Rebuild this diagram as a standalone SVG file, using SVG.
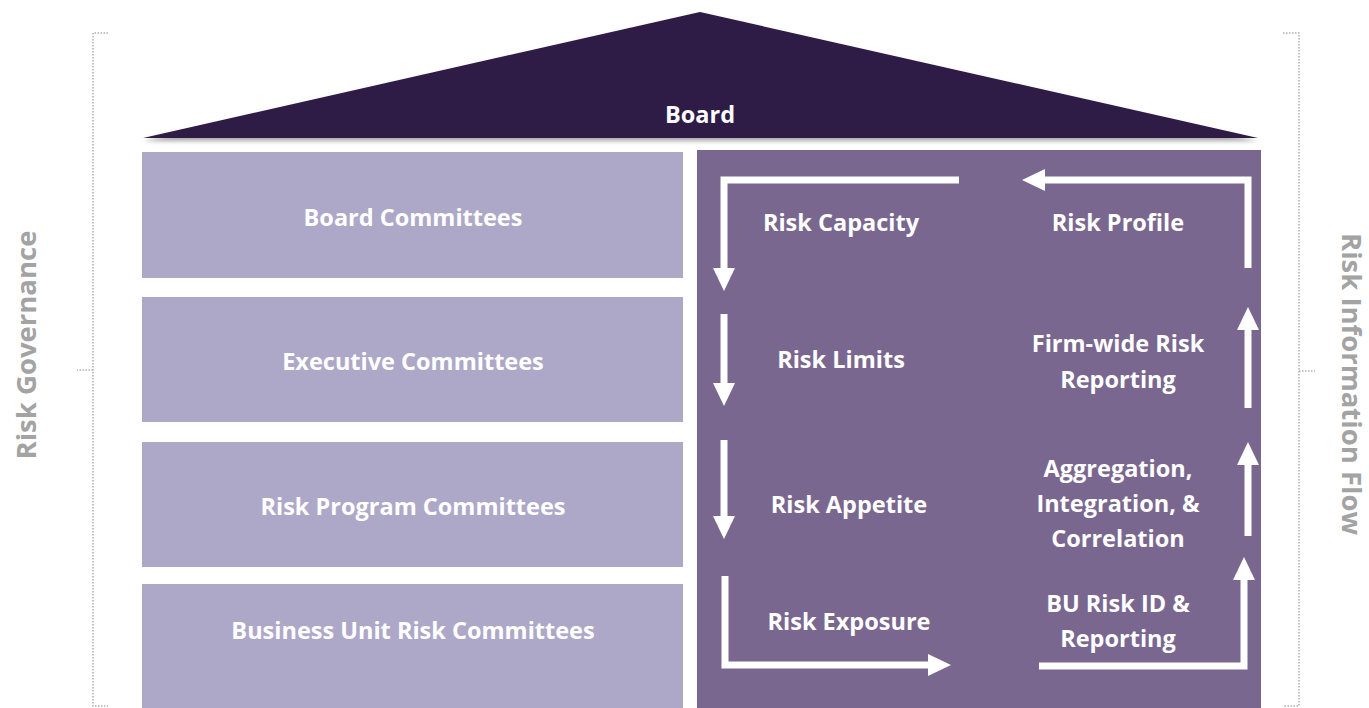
<svg xmlns="http://www.w3.org/2000/svg" width="1369" height="708" viewBox="0 0 1369 708">
<defs>
<style>
.lbl{font-family:"Open Sans","Liberation Sans",sans-serif;font-weight:bold;font-size:23.5px;fill:#ffffff;text-anchor:middle;dominant-baseline:central}
.side{font-family:"Open Sans","Liberation Sans",sans-serif;font-weight:bold;font-size:27.5px;fill:#a3a3a3;text-anchor:middle;dominant-baseline:central}
.box{fill:#aea8c8}
.arr{fill:none;stroke:#ffffff;stroke-width:7}
.head{fill:#ffffff}
.brace{fill:none;stroke:#b0b0b0;stroke-width:1.5;stroke-dasharray:1.5 1.5}
</style>
<filter id="sh" x="-5%" y="-20%" width="110%" height="140%">
<feGaussianBlur in="SourceAlpha" stdDeviation="2"/>
<feOffset dy="3"/>
<feComponentTransfer><feFuncA type="linear" slope="0.35"/></feComponentTransfer>
<feMerge><feMergeNode/><feMergeNode in="SourceGraphic"/></feMerge>
</filter>
</defs>
<rect width="1369" height="708" fill="#ffffff"/>

<g id="braces">
<path class="brace" d="M108,33 H93 V706 H108"/>
<path class="brace" d="M93,370 H77"/>
<path class="brace" d="M1283,33 H1299 V706 H1283"/>
<path class="brace" d="M1299,371 H1315"/>
</g>

<g id="left-label"><text class="side" transform="translate(25,345) rotate(-90)">Risk Governance</text></g>
<g id="right-label"><text class="side" transform="translate(1352,384) rotate(90)">Risk Information Flow</text></g>

<g id="board">
<polygon points="143,138 700,12 1258,138" fill="#2e1a47" filter="url(#sh)"/>
<text class="lbl" x="700" y="114">Board</text>
</g>

<g id="board-committees"><rect class="box" x="142" y="152" width="541" height="126"/><text class="lbl" x="413" y="217">Board Committees</text></g>
<g id="executive-committees"><rect class="box" x="142" y="297" width="541" height="125"/><text class="lbl" x="413" y="361">Executive Committees</text></g>
<g id="risk-program-committees"><rect class="box" x="142" y="442" width="541" height="125"/><text class="lbl" x="413" y="506">Risk Program Committees</text></g>
<g id="bu-risk-committees"><rect class="box" x="142" y="584" width="541" height="124"/><text class="lbl" x="413" y="630">Business Unit Risk Committees</text></g>

<g id="flow-panel"><rect x="697" y="150" width="564" height="558" fill="#7a6790"/></g>

<g id="risk-capacity"><text class="lbl" x="841" y="222">Risk Capacity</text></g>
<g id="risk-profile"><text class="lbl" x="1118" y="222">Risk Profile</text></g>
<g id="risk-limits"><text class="lbl" x="841" y="359">Risk Limits</text></g>
<g id="firm-wide"><text class="lbl" x="1118" y="343">Firm-wide Risk</text><text class="lbl" x="1118" y="379">Reporting</text></g>
<g id="risk-appetite"><text class="lbl" x="849" y="504">Risk Appetite</text></g>
<g id="aggregation"><text class="lbl" x="1118" y="468">Aggregation,</text><text class="lbl" x="1118" y="503">Integration, &amp;</text><text class="lbl" x="1118" y="538">Correlation</text></g>
<g id="risk-exposure"><text class="lbl" x="849" y="621">Risk Exposure</text></g>
<g id="bu-risk-id"><text class="lbl" x="1118" y="603">BU Risk ID &amp;</text><text class="lbl" x="1118" y="638">Reporting</text></g>

<g id="connectors">
<path class="arr" d="M959,180 H724 V270"/>
<polygon class="head" points="713,268 735,268 724,291"/>
<path class="arr" d="M1248,268 V180 H1043"/>
<polygon class="head" points="1045,169 1045,191 1022,180"/>
<path class="arr" d="M724,314 V385"/>
<polygon class="head" points="713,383 735,383 724,406"/>
<path class="arr" d="M724,440 V518"/>
<polygon class="head" points="713,516 735,516 724,539"/>
<path class="arr" d="M725,576 V665 H930"/>
<polygon class="head" points="928,654 928,676 951,665"/>
<path class="arr" d="M1039,666 H1244 V578"/>
<polygon class="head" points="1233,580 1255,580 1244,557"/>
<path class="arr" d="M1248,408 V328"/>
<polygon class="head" points="1237,330 1259,330 1248,307"/>
<path class="arr" d="M1248,536 V463"/>
<polygon class="head" points="1237,465 1259,465 1248,442"/>
</g>
</svg>
